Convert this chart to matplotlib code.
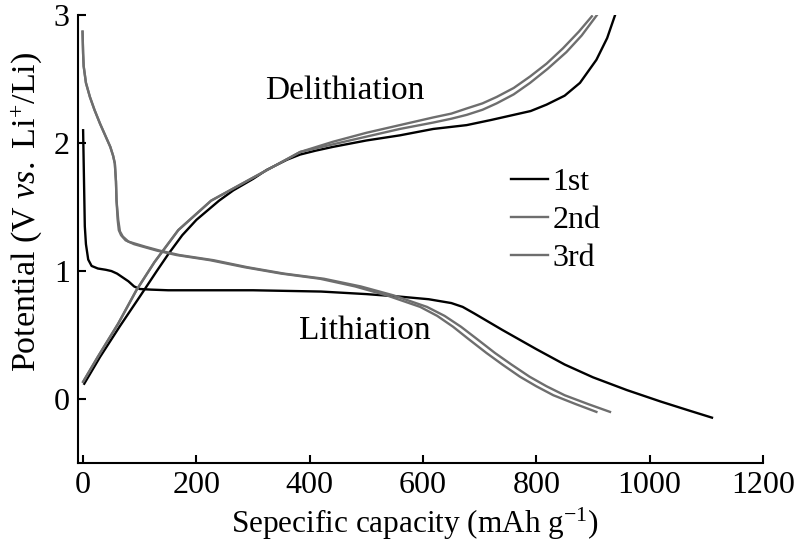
import matplotlib
matplotlib.use('Agg')
import matplotlib.pyplot as plt

plt.rcParams['font.family'] = ['Liberation Serif', 'DejaVu Serif']
plt.rcParams['mathtext.fontset'] = 'custom'
plt.rcParams['mathtext.rm'] = 'Liberation Serif'
plt.rcParams['mathtext.it'] = 'Liberation Serif:italic'

# ---- data (capacity in mAh/g, potential in V) ----
# 1st cycle
lith1_x = [0, 1, 2, 3, 5, 9, 15, 26, 40, 50, 60, 70, 80, 90, 100, 120, 150, 250, 300,
           420, 500, 560, 610, 650, 670, 690, 740, 800, 850, 900, 960, 1020, 1070, 1110]
lith1_y = [2.10, 1.85, 1.60, 1.35, 1.21, 1.09, 1.04, 1.02, 1.01, 1.00, 0.98, 0.95, 0.92,
           0.88, 0.86, 0.855, 0.85, 0.85, 0.85, 0.84, 0.82, 0.80, 0.78, 0.75, 0.72, 0.67,
           0.54, 0.39, 0.27, 0.17, 0.07, -0.02, -0.09, -0.145]
delith1_x = [2, 30, 65, 100, 130, 150, 175, 200, 240, 265, 300, 324, 360, 383, 410, 441,
             500, 559, 618, 677, 720, 760, 790, 818, 850, 877, 906, 925, 939]
delith1_y = [0.12, 0.33, 0.57, 0.80, 1.00, 1.13, 1.28, 1.40, 1.55, 1.63, 1.72, 1.79, 1.87,
             1.91, 1.94, 1.97, 2.02, 2.06, 2.11, 2.14, 2.18, 2.22, 2.25, 2.30, 2.37, 2.47,
             2.65, 2.82, 3.00]

# 2nd cycle
lith2_x = [-1, 0, 1, 5, 12, 20, 30, 40, 48, 53, 56, 58, 59, 62, 65, 70, 80, 95, 110, 135,
           170, 230, 290, 355, 425, 490, 548, 607, 638, 667, 695, 727, 756, 788, 818, 850,
           892, 930]
lith2_y = [2.87, 2.70, 2.60, 2.47, 2.36, 2.26, 2.15, 2.05, 1.97, 1.90, 1.84, 1.70, 1.55,
           1.40, 1.31, 1.27, 1.23, 1.21, 1.19, 1.16, 1.125, 1.085, 1.03, 0.98, 0.94, 0.88,
           0.81, 0.72, 0.65, 0.565, 0.47, 0.36, 0.27, 0.175, 0.10, 0.03, -0.04, -0.10]
delith2_x = [0, 26, 62, 94, 126, 168, 226, 296, 383, 441, 500, 559, 618, 650, 677, 705,
             730, 760, 789, 820, 853, 880, 907]
delith2_y = [0.135, 0.33, 0.59, 0.85, 1.07, 1.32, 1.55, 1.72, 1.93, 1.99, 2.05, 2.11,
             2.16, 2.19, 2.22, 2.26, 2.31, 2.38, 2.47, 2.58, 2.71, 2.84, 3.00]

# 3rd cycle
lith3_x = [-1, 0, 1, 5, 12, 20, 30, 40, 48, 53, 56, 58, 59, 61, 63, 67, 75, 90, 106, 130,
           165, 224, 285, 350, 418, 480, 536, 595, 625, 653, 680, 712, 740, 771, 800, 830,
           870, 906]
lith3_y = [2.87, 2.70, 2.60, 2.47, 2.36, 2.26, 2.15, 2.05, 1.97, 1.90, 1.84, 1.70, 1.55,
           1.40, 1.32, 1.28, 1.24, 1.21, 1.19, 1.16, 1.125, 1.085, 1.03, 0.98, 0.94, 0.88,
           0.81, 0.72, 0.65, 0.565, 0.47, 0.36, 0.27, 0.175, 0.10, 0.03, -0.04, -0.10]
delith3_x = [0, 26, 62, 94, 126, 168, 226, 296, 383, 441, 500, 559, 618, 650, 677, 705,
             730, 760, 789, 818, 847, 875, 898]
delith3_y = [0.135, 0.33, 0.59, 0.85, 1.07, 1.32, 1.55, 1.72, 1.93, 2.01, 2.08, 2.14,
             2.20, 2.23, 2.27, 2.31, 2.36, 2.43, 2.52, 2.62, 2.74, 2.87, 2.99]

labels = ['1st', '2nd', '3rd']
colors = ['#000000', '#6e6e6e', '#6e6e6e']

fig = plt.figure(figsize=(7.96, 5.5), dpi=100)
ax = fig.add_axes([0.098, 0.158, 0.8605, 0.8147])

curves = [(lith1_x, lith1_y, delith1_x, delith1_y),
          (lith2_x, lith2_y, delith2_x, delith2_y),
          (lith3_x, lith3_y, delith3_x, delith3_y)]
for (lx, ly, dx, dy), lab, c in zip(curves, labels, colors):
    ax.plot(lx, ly, color=c, lw=1.7, label=lab)
    ax.plot(dx, dy, color=c, lw=1.7)

ax.set_xlim(-9, 1200)
ax.set_ylim(-0.5, 3)
ax.set_xticks([0, 200, 400, 600, 800, 1000, 1200])
ax.set_yticks([0, 1, 2, 3])
for s in ['top', 'right']:
    ax.spines[s].set_visible(False)
for s in ['left', 'bottom']:
    ax.spines[s].set_linewidth(1.5)
ax.tick_params(direction='in', length=6, width=1.5, labelsize=23, pad=6)

ax.set_xlabel(r'Sepecific capacity (mAh g$^{-1}$)', fontsize=22.5, labelpad=4)
ax.xaxis.label.set_x(0.492)
ax.set_ylabel(r'Potential (V $\it{vs.}$ Li$^{+}$/Li)', fontsize=24.5)
ax.yaxis.set_label_coords(-0.05, 0.56)

ax.text(462, 2.41, 'Delithiation', fontsize=24, ha='center', va='center')
ax.text(498, 0.53, 'Lithiation', fontsize=24, ha='center', va='center')

ax.legend(loc='upper left', bbox_to_anchor=(0.632, 0.66), frameon=False, fontsize=23,
          handlelength=1.15, handletextpad=0.15, labelspacing=0.27, borderpad=0,
          borderaxespad=0)

fig.savefig('out.png', dpi=100)
